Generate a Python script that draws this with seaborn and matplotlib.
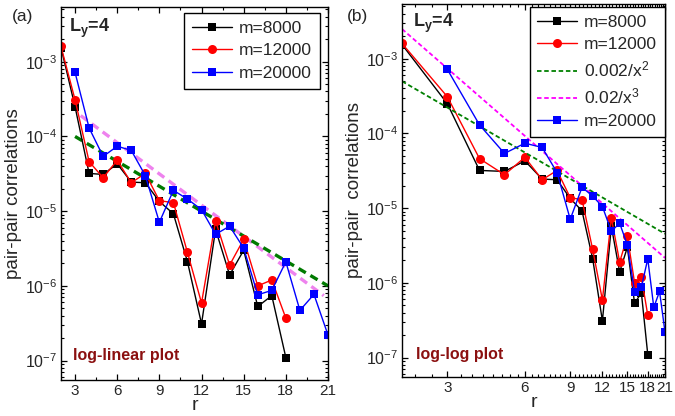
import matplotlib
matplotlib.use('Agg')
import matplotlib.pyplot as plt
import matplotlib.ticker as mticker
import pandas as pd
import seaborn as sns

# r = 2..18 for m=8000 and m=12000, r = 3..21 for m=20000
r_short = list(range(2, 19))
r_long = list(range(3, 22))
m8000 = [1.55e-3, 2.5e-4, 3.2e-5, 3.1e-5, 4.3e-5, 2.45e-5, 2.4e-5, 1.35e-5, 9.2e-6,
         2.1e-6, 3.1e-7, 5.7e-6, 1.4e-6, 3.0e-6, 5.3e-7, 7.4e-7, 1.1e-7]
m12000 = [1.6e-3, 3.1e-4, 4.6e-5, 2.8e-5, 4.8e-5, 2.4e-5, 3.2e-5, 1.38e-5, 1.3e-5,
          2.8e-6, 5.9e-7, 7.4e-6, 1.9e-6, 4.2e-6, 1.0e-6, 1.2e-6, 3.7e-7]
m20000 = [7.2e-4, 1.3e-4, 5.4e-5, 7.4e-5, 6.5e-5, 3.0e-5, 7.1e-6, 1.9e-5, 1.45e-5,
          1.05e-5, 4.9e-6, 6.3e-6, 3.2e-6, 7.6e-7, 8.7e-7, 2.1e-6, 4.7e-7, 7.7e-7, 2.2e-7]

# guide lines (end points)
lin_green_x = [3, 21]
lin_green_y = [1.0e-4, 1.0e-6]
lin_violet_x = [3.4, 20.7]
lin_violet_y = [1.9e-4, 7.4e-7]
pow_x = [2, 21]
pow2_y = [5.0e-4, 4.54e-6]     # 0.002/x^2
pow3_y = [2.5e-3, 2.16e-6]     # 0.02/x^3

df8 = pd.DataFrame({'r': r_short, 'C': m8000})
df12 = pd.DataFrame({'r': r_short, 'C': m12000})
df20 = pd.DataFrame({'r': r_long, 'C': m20000})

sns.set_style('ticks')
plt.rcParams['font.family'] = ['Liberation Sans', 'DejaVu Sans']
plt.rcParams['mathtext.fontset'] = 'custom'
plt.rcParams['mathtext.rm'] = 'Liberation Sans'
plt.rcParams['mathtext.it'] = 'Liberation Sans:italic'
plt.rcParams['mathtext.bf'] = 'Liberation Sans:bold'

fig = plt.figure(figsize=(6.75, 4.16), dpi=100)
axa = fig.add_axes([61/675, 1-380/416, 267/675, 373/416])
axb = fig.add_axes([402/675, 1-377/416, 263/675, 373/416])

ser = dict(lw=1.0, markeredgewidth=0)

def data_lines(ax, order):
    for name in order:
        if name == 'm8000':
            sns.lineplot(data=df8, x='r', y='C', ax=ax, color='black', marker='s', ms=5.5, label='m=8000', **ser)
        elif name == 'm12000':
            sns.lineplot(data=df12, x='r', y='C', ax=ax, color='red', marker='o', ms=6.5, label='m=12000', **ser)
        elif name == 'm20000':
            sns.lineplot(data=df20, x='r', y='C', ax=ax, color='blue', marker='s', ms=5.5, label='m=20000', **ser)
        elif name == 'pow2':
            sns.lineplot(x=pow_x, y=pow2_y, ax=ax, color='#008000', lw=1.3, linestyle=(0, (2.5, 1.5)), label='0.002/x$^2$')
        elif name == 'pow3':
            sns.lineplot(x=pow_x, y=pow3_y, ax=ax, color='#ff00ff', lw=1.3, linestyle=(0, (2.5, 1.5)), label='0.02/x$^3$')

# panel (a): log-linear
sns.lineplot(x=lin_violet_x, y=lin_violet_y, ax=axa, color='#ee82ee', lw=2.4, linestyle=(0, (2.5, 1.6)))
sns.lineplot(x=lin_green_x, y=lin_green_y, ax=axa, color='#007a00', lw=2.4, linestyle=(0, (2.5, 1.6)))
data_lines(axa, ['m8000', 'm12000', 'm20000'])
axa.set_yscale('log')
axa.set_xlim(2, 21)
axa.xaxis.set_major_locator(mticker.MultipleLocator(3))
axa.xaxis.set_minor_locator(mticker.MultipleLocator(1.5))

# panel (b): log-log
data_lines(axb, ['m8000', 'm12000', 'pow2', 'pow3', 'm20000'])
axb.set_xscale('log')
axb.set_yscale('log')
axb.set_xlim(2, 21)
axb.xaxis.set_major_locator(mticker.FixedLocator([3, 6, 9, 12, 15, 18, 21]))
axb.xaxis.set_major_formatter(mticker.FixedFormatter(['3', '6', '9', '12', '15', '18', '21']))
axb.xaxis.set_minor_locator(mticker.MultipleLocator(0.375))
axb.xaxis.set_minor_formatter(mticker.NullFormatter())

for ax in (axa, axb):
    ax.set_ylim(5.5e-8, 5.4e-3)
    ax.yaxis.set_major_locator(mticker.LogLocator(base=10, numticks=10))
    ax.yaxis.set_minor_locator(mticker.LogLocator(base=10, subs=range(2, 10), numticks=10))
    ax.yaxis.set_minor_formatter(mticker.NullFormatter())
    ax.tick_params(which='both', direction='in', top=True, right=True, labelsize=11.5, pad=3, color='black')
    ax.tick_params(axis='x', labelsize=11)
    ax.tick_params(which='major', length=4.5, width=0.9)
    ax.tick_params(which='minor', length=2.5, width=0.8)
    for s in ax.spines.values():
        s.set_linewidth(1.0)
        s.set_color('black')
    ax.set_xlabel('r', fontsize=14, labelpad=-1)

axa.set_ylabel('pair-pair correlations', fontsize=13.5, labelpad=2)
axb.set_ylabel('pair-pair  correlations', fontsize=13.5, labelpad=2)

leg_kw = dict(loc='upper right', fontsize=12.5, frameon=True, fancybox=False, edgecolor='black',
              framealpha=1, handlelength=2.3, handletextpad=0.4, labelspacing=0.42, borderpad=0.45,
              borderaxespad=0)
la = axa.legend(bbox_to_anchor=(0.970, 0.984), **leg_kw)
lb = axb.legend(bbox_to_anchor=(1.0, 0.992), **leg_kw)
for lg in (la, lb):
    lg.get_frame().set_linewidth(1.0)

axa.text(0.03, 0.975, r'L$_\mathbf{y}$=4', transform=axa.transAxes, fontsize=13, fontweight='bold',
         va='top', ha='left')
axb.text(0.04, 0.98, r'L$_\mathbf{y}$=4', transform=axb.transAxes, fontsize=13, fontweight='bold',
         va='top', ha='left')
axa.text(0.045, 0.067, 'log-linear plot', transform=axa.transAxes, fontsize=11.5, fontweight='bold',
         color='#8b1010', va='center', ha='left')
axb.text(0.053, 0.059, 'log-log plot', transform=axb.transAxes, fontsize=11.5, fontweight='bold',
         color='#8b1010', va='center', ha='left')

fig.text(12/675, 1-16/416, '(a)', fontsize=12.5, va='center', ha='left')
fig.text(347/675, 1-16/416, '(b)', fontsize=12.5, va='center', ha='left')

fig.savefig('out.png', dpi=100)
